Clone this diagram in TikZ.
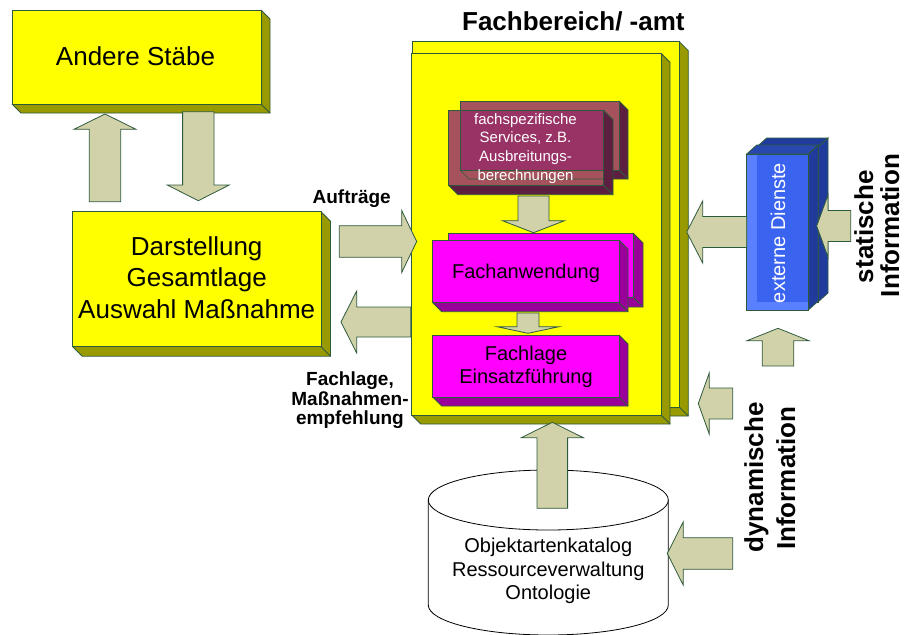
\documentclass[tikz,border=0pt]{standalone}
\usepackage{fontspec}
\setmainfont{Liberation Sans}
\definecolor{outl}{HTML}{2E5A3C}
\definecolor{yel}{HTML}{FFFF00}
\definecolor{yelside}{HTML}{999900}
\definecolor{mag}{HTML}{FF00FF}
\definecolor{magside}{HTML}{990099}
\definecolor{marlight}{HTML}{A5525C}
\definecolor{mardark}{HTML}{993366}
\definecolor{marside}{HTML}{5C1F3F}
\definecolor{bluelight}{HTML}{5A80FF}
\definecolor{bluemain}{HTML}{3A64F0}
\definecolor{blueside}{HTML}{1F3C9C}
\definecolor{bluetop}{HTML}{2848B0}
\definecolor{arrfill}{HTML}{D2D2AA}
\tikzset{
  edge/.style={draw=outl, line width=0.8pt, line join=miter},
  arr/.style={fill=arrfill, draw=outl, line width=0.8pt, line join=miter},
  lbl/.style={anchor=base, inner sep=0pt},
  cyl/.style={draw=black, line width=0.8pt, fill=white},
}
% cube: x1 y1 x2 y2 depth frontcolour sidecolour (depth down-right)
\newcommand\cubeBox[7]{%
  \fill[#7] (#3,#2) -- (#3+#5,#2+#5) -- (#3+#5,#4+#5) -- (#3,#4) -- cycle;
  \fill[#7] (#1,#4) -- (#3,#4) -- (#3+#5,#4+#5) -- (#1+#5,#4+#5) -- cycle;
  \draw[edge] (#3,#2) -- (#3+#5,#2+#5) -- (#3+#5,#4+#5) -- (#1+#5,#4+#5) -- (#1,#4);
  \draw[edge] (#3,#4) -- (#3+#5,#4+#5);
  \filldraw[edge, fill=#6] (#1,#2) rectangle (#3,#4);
}
% cube with depth up-right: x1 y1 x2 y2 dx dy front side top
\newcommand\cubeUp[9]{%
  \filldraw[edge, fill=#9] (#1,#2) -- (#1+#5,#2-#6) -- (#3+#5,#2-#6) -- (#3,#2) -- cycle;
  \filldraw[edge, fill=#8] (#3,#2) -- (#3+#5,#2-#6) -- (#3+#5,#4-#6) -- (#3,#4) -- cycle;
  \filldraw[edge, fill=#7] (#1,#2) rectangle (#3,#4);
}
% vertical block arrow: cx ytail yhead ytip shafthalf headhalf
\newcommand\vArrow[6]{%
  \draw[arr] (#1-#5,#2) -- (#1-#5,#3) -- (#1-#6,#3) -- (#1,#4) -- (#1+#6,#3) -- (#1+#5,#3) -- (#1+#5,#2) -- cycle;
}
% horizontal block arrow: cy xtail xhead xtip shafthalf headhalf
\newcommand\hArrow[6]{%
  \draw[arr] (#2,#1-#5) -- (#3,#1-#5) -- (#3,#1-#6) -- (#4,#1) -- (#3,#1+#6) -- (#3,#1+#5) -- (#2,#1+#5) -- cycle;
}
\newcommand\fsBig{\fontsize{26}{31}\selectfont}
\newcommand\fsMid{\fontsize{20}{23}\selectfont}
\newcommand\fsSmall{\fontsize{15}{18}\selectfont}
\newcommand\fsLab{\bfseries\fontsize{19}{20}\selectfont}
\begin{document}
\begin{tikzpicture}[x=1pt,y=-1pt]
\useasboundingbox (0,0) rectangle (906,635);

% left boxes
\cubeBox{12}{10}{261}{104}{9}{yel}{yelside}
\cubeBox{72.7}{211.7}{321}{346.7}{9.5}{yel}{yelside}

% Fachbereich boxes
\cubeBox{412.7}{41.7}{679.3}{407}{9}{yel}{yelside}
\cubeBox{411.7}{53.3}{661}{415}{9}{yel}{yelside}

% services boxes
\cubeBox{460}{101}{619}{170}{9}{marlight}{marside}
\cubeBox{448.3}{110}{603.3}{185}{9.7}{marlight}{marside}
\fill[mardark] (460,110) rectangle (603.3,170);
\draw[outl, line width=0.6pt] (460,110) -- (460,170) -- (603.3,170);
\draw[outl, line width=0.6pt] (460,170) -- (469,179) -- (603.3,179);
\draw[edge] (448.3,110) rectangle (603.3,185);

% Fachanwendung / Fachlage
\cubeBox{448}{233}{633}{297}{10}{mag}{magside}
\cubeBox{432.7}{240}{619}{302.7}{9}{mag}{magside}
\cubeBox{432.7}{335}{619}{397}{9}{mag}{magside}

% inner arrows
\vArrow{533.5}{196}{220.7}{232.7}{15.5}{31}
\vArrow{528}{313}{326.7}{333.3}{11}{31}

% arrows between left boxes
\vArrow{105}{201.7}{129.3}{114}{15.7}{31}
\vArrow{198.3}{111.7}{185}{200.7}{15.7}{31}

% arrows to/from Fachbereich
\hArrow{241.5}{339.3}{401.7}{416.7}{15.8}{31}
\hArrow{322}{410.7}{356.7}{341}{15}{31}

% externe Dienste
\cubeUp{756.7}{147}{818}{302}{10}{9}{bluemain}{blueside}{blueside}
\cubeUp{746.7}{154}{808.3}{310}{10}{9}{bluelight}{blueside}{bluetop}
\fill[bluemain] (756.7,154) rectangle (808.3,302);
\draw[edge] (746.7,154) rectangle (808.3,310);

\hArrow{232}{746.7}{702.7}{686.7}{15.5}{31}
\hArrow{226}{850.7}{828}{816.7}{15.5}{31}
\vArrow{778}{366}{340.7}{328.3}{15.8}{31}
\hArrow{403.5}{732.7}{709.3}{698.3}{15.5}{30.7}

% cylinder
\draw[cyl] (428.3,500) -- (428.3,605) arc[start angle=180, end angle=360, x radius=120pt, y radius=30pt] -- (668.3,500) -- cycle;
\draw[cyl] (548.3,500) ellipse [x radius=120pt, y radius=30pt];
\vArrow{552.3}{508.3}{437.7}{422.3}{15.3}{31}
\hArrow{553.5}{732.7}{683.3}{667.3}{15.8}{31.7}

% texts
\node[lbl, font=\fsBig] (andere) at (135.5,65) {Andere Stäbe};
\node[lbl, font=\fsBig] (dar1) at (196.7,255) {Darstellung};
\node[lbl, font=\fsBig] (dar2) at (196.7,286.7) {Gesamtlage};
\node[lbl, font=\fsBig] (dar3) at (196.7,318.3) {Auswahl Maßnahme};
\node[lbl, font=\fsBig\bfseries] (fb) at (573.4,30) {Fachbereich/ -amt};

\node[lbl, font=\fsSmall, text=white] (sv1) at (525.5,124) {fachspezifische};
\node[lbl, font=\fsSmall, text=white] (sv2) at (525.5,142.7) {Services, z.B.};
\node[lbl, font=\fsSmall, text=white] (sv3) at (525.5,161.3) {Ausbreitungs-};
\node[lbl, font=\fsSmall, text=white] (sv4) at (525.5,180) {berechnungen};

\node[lbl, font=\fsMid] (fa) at (526,278.3) {Fachanwendung};
\node[lbl, font=\fsMid] (fl1) at (526,360) {Fachlage};
\node[lbl, font=\fsMid] (fl2) at (526,383.3) {Einsatzführung};

\node[lbl, font=\fsLab] (auf) at (351.7,203.3) {Aufträge};
\node[lbl, font=\fsLab] (lb1) at (350,385.5) {Fachlage,};
\node[lbl, font=\fsLab] (lb2) at (350,405) {Maßnahmen-};
\node[lbl, font=\fsLab] (lb3) at (350,424.5) {empfehlung};

\node[lbl, font=\fsMid] (cy1) at (548.3,552.6) {Objektartenkatalog};
\node[lbl, font=\fsMid] (cy2) at (548.3,576) {Ressourceverwaltung};
\node[lbl, font=\fsMid] (cy3) at (548.3,599.3) {Ontologie};

\node[lbl, font=\fsMid, text=white, rotate=90] (ext) at (785,233) {externe Dienste};
\node[lbl, font=\fsBig\bfseries, rotate=90] (st1) at (873,226.7) {statische};
\node[lbl, font=\fsBig\bfseries, rotate=90] (st2) at (899,225.6) {Information};
\node[lbl, font=\fsBig\bfseries, rotate=90] (dy1) at (763,477.5) {dynamische};
\node[lbl, font=\fsBig\bfseries, rotate=90] (dy2) at (795,478.3) {Information};
\end{tikzpicture}
\end{document}
